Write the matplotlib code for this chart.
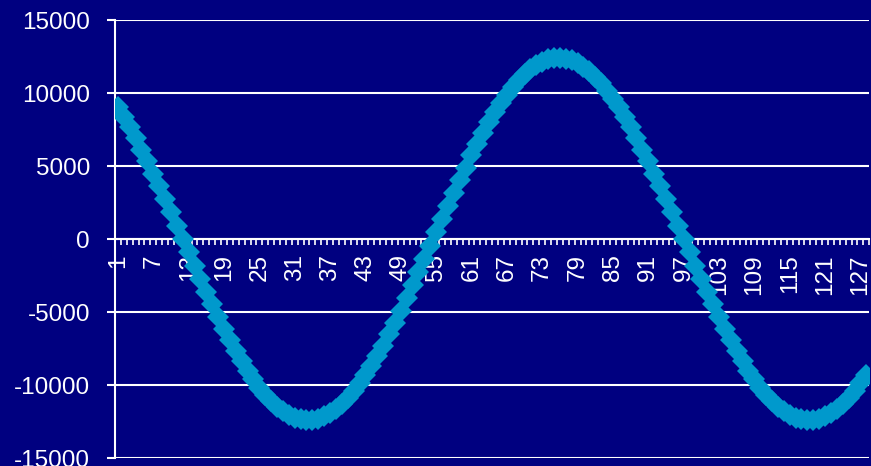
import numpy as np
import matplotlib.pyplot as plt

# one value per category
categories = list(range(1, 129))
values = [
    9010, 8350, 7660, 6910, 6130, 5320, 4480, 3610, 2730, 1830, 920, 0,
    -920, -1830, -2730, -3610, -4480, -5320, -6130, -6910, -7660, -8350, -9010,
    -9610, -10170, -10660, -11100, -11480, -11790, -12040, -12230, -12350, -12400,
    -12380, -12300, -12140, -11930, -11640, -11300, -10890, -10420, -9890, -9320,
    -8690, -8010, -7290, -6530, -5730, -4900, -4050, -3170, -2280, -1370, -460,
    460, 1370, 2280, 3170, 4050, 4900, 5730, 6530, 7290, 8010, 8690, 9320,
    9890, 10420, 10890, 11300, 11640, 11930, 12140, 12300, 12380, 12400, 12350,
    12230, 12040, 11790, 11480, 11100, 10660, 10170, 9610, 9010, 8350, 7660,
    6910, 6130, 5320, 4480, 3610, 2730, 1830, 920, 0,
    -920, -1830, -2730, -3610, -4480, -5320, -6130, -6910, -7660, -8350, -9010,
    -9610, -10170, -10660, -11100, -11480, -11790, -12040, -12230, -12350, -12400,
    -12380, -12300, -12140, -11930, -11640, -11300, -10890, -10420, -9890, -9320,
]
y_ticks = [-15000, -10000, -5000, 0, 5000, 10000, 15000]
x_labels = categories[::6]

navy = '#000080'
plt.rcParams['font.family'] = ['Liberation Sans', 'DejaVu Sans']

fig = plt.figure(figsize=(8.71, 4.66), dpi=100, facecolor=navy)
ax = fig.add_axes([0.132, 0.017, 0.866, 0.940], facecolor=navy)

ax.plot(categories, values, color='#0099cc', linewidth=6, marker='D',
        markersize=11, markeredgewidth=0, zorder=3)

ax.set_xlim(0.5, 128.5)
ax.set_ylim(-15000, 15000)
ax.set_yticks(y_ticks)
ax.set_yticklabels([str(v) for v in y_ticks])
ax.yaxis.grid(True, color='white', linewidth=1.5)
ax.set_axisbelow(True)

# category labels every 6th, ticks between every category
ax.set_xticks(x_labels)
ax.set_xticklabels([str(v) for v in x_labels])
ax.set_xticks(np.arange(0.5, 129, 1), minor=True)
ax.tick_params(axis='x', which='major', length=0, pad=11, labelsize=17.5,
               colors='white', labelrotation=90)
ax.tick_params(axis='x', which='minor', length=4, width=1.2, color='white',
               direction='out')
ax.tick_params(axis='y', length=6, width=1.5, pad=12, labelsize=17.5,
               colors='white')

for s in ['top', 'right']:
    ax.spines[s].set_visible(False)
ax.spines['left'].set_color('white')
ax.spines['left'].set_linewidth(1.5)
ax.spines['bottom'].set_position(('data', 0))
ax.spines['bottom'].set_color('white')
ax.spines['bottom'].set_linewidth(1.5)

fig.savefig('out.png', dpi=100, facecolor=navy)
